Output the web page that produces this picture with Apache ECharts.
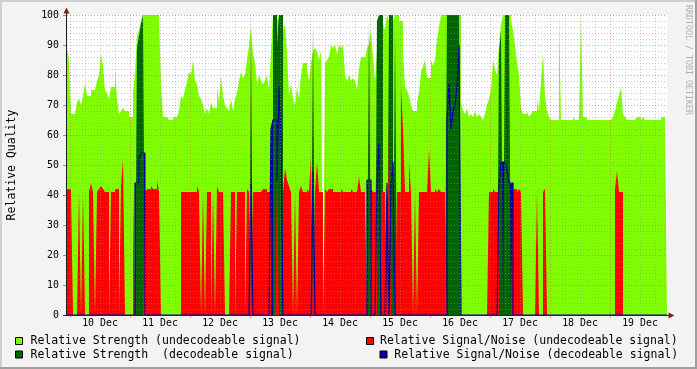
<!DOCTYPE html>
<html>
<head>
<meta charset="utf-8">
<script src="https://cdn.jsdelivr.net/npm/echarts@6/dist/echarts.min.js"></script>
<style>html,body{margin:0;padding:0;background:#f3f3f3}#c{width:697px;height:369px}</style>
</head>
<body>
<div id="c"></div>
<script>
// Each value covers one 48-minute step (2 px), starting 09 Dec 22:48.
const dayLabels = ['10 Dec','11 Dec','12 Dec','13 Dec','14 Dec','15 Dec','16 Dec','17 Dec','18 Dec','19 Dec'];
const yTickLabels = [0,10,20,30,40,50,60,70,80,90,100];

const strengthUndecodeable = [
 89,85,67,67,67,71,72,70,73,77,
 73,73,75,75,75,78,80,87,83,75,
 74,72,76,76,82,72,67,68,69,68,
 68,66,66,74,81,93,95,98,100,100,
 100,100,100,100,100,100,100,77,66,66,
 66,65,65,66,66,66,68,73,72,75,
 78,81,80,85,78,77,73,72,70,67,
 69,67,71,69,69,76,71,80,73,70,
 69,68,72,68,72,74,78,81,79,80,
 85,90,96,87,84,77,80,78,77,78,
 80,75,88,100,100,98,100,100,95,97,
 87,73,77,72,70,76,72,80,84,84,
 82,78,84,88,89,88,85,88,0,84,
 85,86,90,89,90,87,90,89,90,80,
 78,80,78,79,78,75,82,86,86,85,
 89,90,95,86,78,88,100,100,97,95,
 100,98,100,98,100,100,98,98,88,76,
 75,73,70,68,68,71,74,81,83,85,
 79,79,85,83,85,92,96,100,100,100,
 100,100,100,100,100,100,100,71,68,67,
 69,66,67,66,68,66,67,66,65,67,
 70,72,75,85,82,80,90,97,100,100,
 100,100,98,95,90,84,80,69,67,67,
 68,66,67,68,68,72,68,78,87,73,
 68,66,65,65,65,65,100,65,65,65,
 65,65,65,66,65,65,66,100,66,66,
 65,65,65,65,65,65,65,65,65,65,
 65,65,65,66,68,71,73,76,67,66,
 65,65,65,65,65,66,66,65,66,65,
 65,65,65,65,65,65,65,66,66,66
];

const strengthDecodeable = [
 0,0,0,0,0,0,0,0,0,0,
 0,0,0,0,0,0,0,0,0,0,
 0,0,0,0,0,0,0,0,0,0,
 0,0,0,0,0,89,93,97,100,0,
 0,0,0,0,0,0,0,0,0,0,
 0,0,0,0,0,0,0,0,0,0,
 0,0,0,0,0,0,0,0,0,0,
 0,0,0,0,0,0,0,0,0,0,
 0,0,0,0,0,0,0,0,0,0,
 0,0,92,0,0,0,0,0,0,0,
 0,0,0,100,100,90,100,100,0,0,
 0,0,0,0,0,0,0,0,0,0,
 0,0,0,97,0,0,0,0,0,0,
 0,0,0,0,0,0,0,0,0,0,
 0,0,0,0,0,0,0,0,0,0,
 0,99,0,0,0,98,100,100,0,0,
 0,100,100,0,95,0,0,0,0,0,
 0,0,0,0,0,0,0,0,0,0,
 0,0,0,0,0,0,0,0,0,0,
 100,100,100,100,100,100,100,0,0,0,
 0,0,0,0,0,0,0,0,0,0,
 0,0,0,0,0,0,87,95,0,100,
 100,100,0,0,0,0,0,0,0,0,
 0,0,0,0,0,0,0,0,0,0,
 0,0,0,0,0,0,0,0,0,0,
 0,0,0,0,0,0,0,0,0,0,
 0,0,0,0,0,0,0,0,0,0,
 0,0,0,0,0,0,0,0,0,0,
 0,0,0,0,0,0,0,0,0,0,
 0,0,0,0,0,0,0,0,0,0
];

const snrUndecodeable = [
 42,42,41,0,0,0,41,0,41,0,
 0,41,44,41,0,41,42,43,42,41,
 41,0,41,41,42,42,0,43,52,0,
 0,0,0,41,0,0,0,0,0,41,
 42,42,43,42,42,45,41,0,0,0,
 0,0,0,0,0,0,0,41,41,41,
 41,41,41,41,41,43,41,0,41,0,
 41,41,0,41,0,43,41,41,41,0,
 0,0,41,41,0,41,41,41,41,0,
 42,41,0,41,41,41,41,41,42,42,
 41,41,0,0,0,45,0,0,41,49,
 45,43,41,0,41,0,41,43,41,41,
 42,41,53,0,41,51,41,41,0,42,
 41,42,42,41,41,41,41,42,41,41,
 41,41,42,41,41,41,46,41,41,41,
 0,0,42,41,41,0,0,41,41,41,
 0,65,0,0,0,41,41,76,62,41,
 41,51,41,0,41,0,41,41,41,41,
 41,55,41,41,42,41,42,41,41,41,
 0,0,0,0,0,0,0,0,0,0,
 0,0,0,0,0,0,0,0,0,0,
 0,41,41,42,41,41,0,0,0,0,
 0,0,0,42,42,41,42,41,0,0,
 0,0,0,0,0,41,0,0,41,42,
 0,0,0,0,0,0,0,0,0,0,
 0,0,0,0,0,0,0,0,0,0,
 0,0,0,0,0,0,0,0,0,0,
 0,0,0,0,42,48,41,41,0,0,
 0,0,0,0,0,0,0,0,0,0,
 0,0,0,0,0,0,0,0,0,0
];

const snrDecodeable = [
 0,0,0,0,0,0,0,0,0,0,
 0,0,0,0,0,0,0,0,0,0,
 0,0,0,0,0,0,0,0,0,0,
 0,0,0,0,44,44,52,54,54,0,
 0,0,0,0,0,0,0,0,0,0,
 0,0,0,0,0,0,0,0,0,0,
 0,0,0,0,0,0,0,0,0,0,
 0,0,0,0,0,0,0,0,0,0,
 0,0,0,0,0,0,0,0,0,0,
 0,0,44,0,0,0,0,0,0,0,
 0,0,62,65,65,45,76,58,0,0,
 0,0,0,0,0,0,0,0,0,0,
 0,0,0,48,0,0,0,0,0,0,
 0,0,0,0,0,0,0,0,0,0,
 0,0,0,0,0,0,0,0,0,0,
 45,45,0,0,0,44,57,0,0,0,
 44,0,43,51,0,0,0,0,0,0,
 0,0,0,0,0,0,0,0,0,0,
 0,0,0,0,0,0,0,0,0,0,
 65,77,62,68,70,76,90,0,0,0,
 0,0,0,0,0,0,0,0,0,0,
 0,0,0,0,0,0,43,51,51,51,
 48,44,44,0,0,0,0,0,0,0,
 0,0,0,0,0,0,0,0,0,0,
 0,0,0,0,0,0,0,0,0,0,
 0,0,0,0,0,0,0,0,0,0,
 0,0,0,0,0,0,0,0,0,0,
 0,0,0,0,0,0,0,0,0,0,
 0,0,0,0,0,0,0,0,0,0,
 0,0,0,0,0,0,0,0,0,0
];

const NAMES = {
  lg: 'Relative Strength (undecodeable signal)',
  dg: 'Relative Strength  (decodeable signal)',
  red: 'Relative Signal/Noise (undecodeable signal)',
  blue: 'Relative Signal/Noise (decodeable signal)'
};
const COLORS = { lg: '#7fff00', dg: '#006400', red: '#ff0000', blue: '#0000a0' };
const MONO = '"DejaVu Sans Mono", monospace';
const GRID_MINOR = 'rgba(143,143,143,0.5)';
const GRID_MAJOR = 'rgba(222,79,79,0.55)';

// axis geometry in step units: midnight 10 Dec at 1.5, a day = 30 steps, 6 h = 7.5 steps
const FIRST_MIDNIGHT = 1.5, DAY = 30, QUARTER = 7.5;
const labelPos = dayLabels.map((_, k) => FIRST_MIDNIGHT + DAY / 2 + DAY * k);
const majorPos = dayLabels.map((_, k) => FIRST_MIDNIGHT + DAY * k);

// each value holds over its whole step: [i, v] .. [i+1, v]
function stepPoints(values) {
  const pts = [];
  values.forEach((v, i) => { pts.push([i, v]); pts.push([i + 1, v]); });
  return pts;
}
function areaSeries(name, values, color, z) {
  return {
    name, type: 'line', data: stepPoints(values), z,
    symbol: 'none', showSymbol: false, silent: true,
    lineStyle: { width: 0, opacity: 0 },
    areaStyle: { color, opacity: 1 },
    itemStyle: { color }
  };
}

const chart = echarts.init(document.getElementById('c'), null, { renderer: 'canvas', width: 697, height: 369 });
chart.setOption({
  animation: false,
  backgroundColor: '#f3f3f3',
  textStyle: { fontFamily: MONO },
  grid: { left: 67, top: 15, width: 600, height: 300, show: true, backgroundColor: '#ffffff', borderWidth: 0 },
  xAxis: {
    type: 'value', min: 0, max: 300,
    axisLine: { show: false },
    splitLine: { show: false },
    axisTick: { show: true, customValues: majorPos, length: 3, lineStyle: { color: GRID_MAJOR } },
    axisLabel: {
      customValues: labelPos,
      formatter: v => dayLabels[Math.round((v - FIRST_MIDNIGHT - DAY / 2) / DAY)] || '',
      fontFamily: MONO, fontSize: 9.9, color: '#000', margin: 3
    }
  },
  yAxis: {
    type: 'value', min: 0, max: 100, interval: 10, offset: 1,
    axisLine: { show: false },
    splitLine: { show: false },
    axisTick: { show: true, length: 4, lineStyle: { color: '#8f8f8f' } },
    axisLabel: { fontFamily: MONO, fontSize: 9.9, color: '#000', margin: 7,
      formatter: v => String(yTickLabels[Math.round(v / 10)]) }
  },
  series: [
    areaSeries(NAMES.lg, strengthUndecodeable, COLORS.lg, 2),
    areaSeries(NAMES.blue + ' fill', snrDecodeable, COLORS.blue, 3),
    areaSeries(NAMES.dg, strengthDecodeable, COLORS.dg, 4),
    areaSeries(NAMES.red, snrUndecodeable, COLORS.red, 5),
    {
      name: NAMES.blue, type: 'line', data: stepPoints(snrDecodeable), z: 6,
      symbol: 'none', showSymbol: false, silent: true,
      lineStyle: { width: 1.2, color: COLORS.blue }, itemStyle: { color: COLORS.blue }
    }
  ]
});

// grid lines on top of the data, placed through the chart's own scales
const toPx = (x, y) => chart.convertToPixel({ gridIndex: 0 }, [x, y]);
const [pl, pb] = toPx(0, 0);
const [pr, pt] = toPx(300, 100);
const g = [];
function addLine(x1, y1, x2, y2, stroke) {
  g.push({ type: 'line', z: 10, silent: true, shape: { x1, y1, x2, y2 },
    style: { stroke, lineWidth: 1, lineDash: [1, 2] } });
}
for (let k = 0; FIRST_MIDNIGHT + QUARTER * k < 300; k++) {
  const v = FIRST_MIDNIGHT + QUARTER * k;
  const X = Math.floor(toPx(v, 0)[0]) + 0.5;
  addLine(X, pt, X, pb, k % 4 === 0 ? GRID_MAJOR : GRID_MINOR);
}
for (let v = 2; v <= 100; v += 2) {
  const Y = Math.floor(toPx(0, v)[1]) + 0.5;
  addLine(pl, Y, pr, Y, v % 10 === 0 ? GRID_MAJOR : GRID_MINOR);
}
// axes and arrows
const AX = '#1f1f1f', ARROW = '#801f1f';
g.push({ type: 'line', z: 11, silent: true, shape: { x1: pl - 0.5, y1: pb + 0.5, x2: pl - 0.5, y2: pt - 2 }, style: { stroke: AX, lineWidth: 1 } });
g.push({ type: 'line', z: 11, silent: true, shape: { x1: pl - 4, y1: pb + 0.5, x2: pr + 2, y2: pb + 0.5 }, style: { stroke: '#20205a', lineWidth: 1 } });
g.push({ type: 'polygon', z: 12, silent: true, shape: { points: [[pl - 3.5, pt - 1.5], [pl + 2.5, pt - 1.5], [pl - 0.5, pt - 7.5]] }, style: { fill: ARROW } });
g.push({ type: 'polygon', z: 12, silent: true, shape: { points: [[pr + 1.5, pb - 2.5], [pr + 1.5, pb + 3.5], [pr + 7.5, pb + 0.5]] }, style: { fill: ARROW } });
// frame shading
g.push({ type: 'rect', z: 1, silent: true, shape: { x: 0, y: 0, width: 697, height: 2 }, style: { fill: '#cfcfcf' } });
g.push({ type: 'rect', z: 1, silent: true, shape: { x: 0, y: 0, width: 2, height: 369 }, style: { fill: '#cfcfcf' } });
g.push({ type: 'rect', z: 1, silent: true, shape: { x: 0, y: 367, width: 697, height: 2 }, style: { fill: '#9e9e9e' } });
g.push({ type: 'rect', z: 1, silent: true, shape: { x: 695, y: 0, width: 2, height: 369 }, style: { fill: '#9e9e9e' } });
// titles
g.push({ type: 'text', z: 12, silent: true, x: 12, y: 165, rotation: Math.PI / 2,
  style: { text: 'Relative Quality', fontFamily: MONO, fontSize: 11.5, fill: '#000', align: 'center', verticalAlign: 'middle' } });
g.push({ type: 'text', z: 12, silent: true, x: 688, y: 5, rotation: -Math.PI / 2,
  style: { text: 'RRDTOOL / TOBI OETIKER', fontFamily: MONO, fontSize: 8.3, fill: '#b0b0b0', align: 'left', verticalAlign: 'middle' } });
// legend
function legendItem(sx, sy, tx, ty, color, text) {
  g.push({ type: 'rect', z: 12, silent: true, shape: { x: sx + 0.5, y: sy + 0.5, width: 7, height: 7 }, style: { fill: color, stroke: '#000', lineWidth: 1 } });
  g.push({ type: 'text', z: 12, silent: true, x: tx, y: ty, style: { text, fontFamily: MONO, fontSize: 11.5, fill: '#000', align: 'left', verticalAlign: 'middle' } });
}
legendItem(15, 337, 30.5, 341.5, COLORS.lg, NAMES.lg);
legendItem(15, 350.5, 30.5, 355, COLORS.dg, NAMES.dg);
legendItem(366, 337, 380, 341.5, COLORS.red, NAMES.red);
legendItem(379.5, 350.5, 394.3, 355, COLORS.blue, NAMES.blue);

chart.setOption({ graphic: { elements: g } });
</script>
</body>
</html>
